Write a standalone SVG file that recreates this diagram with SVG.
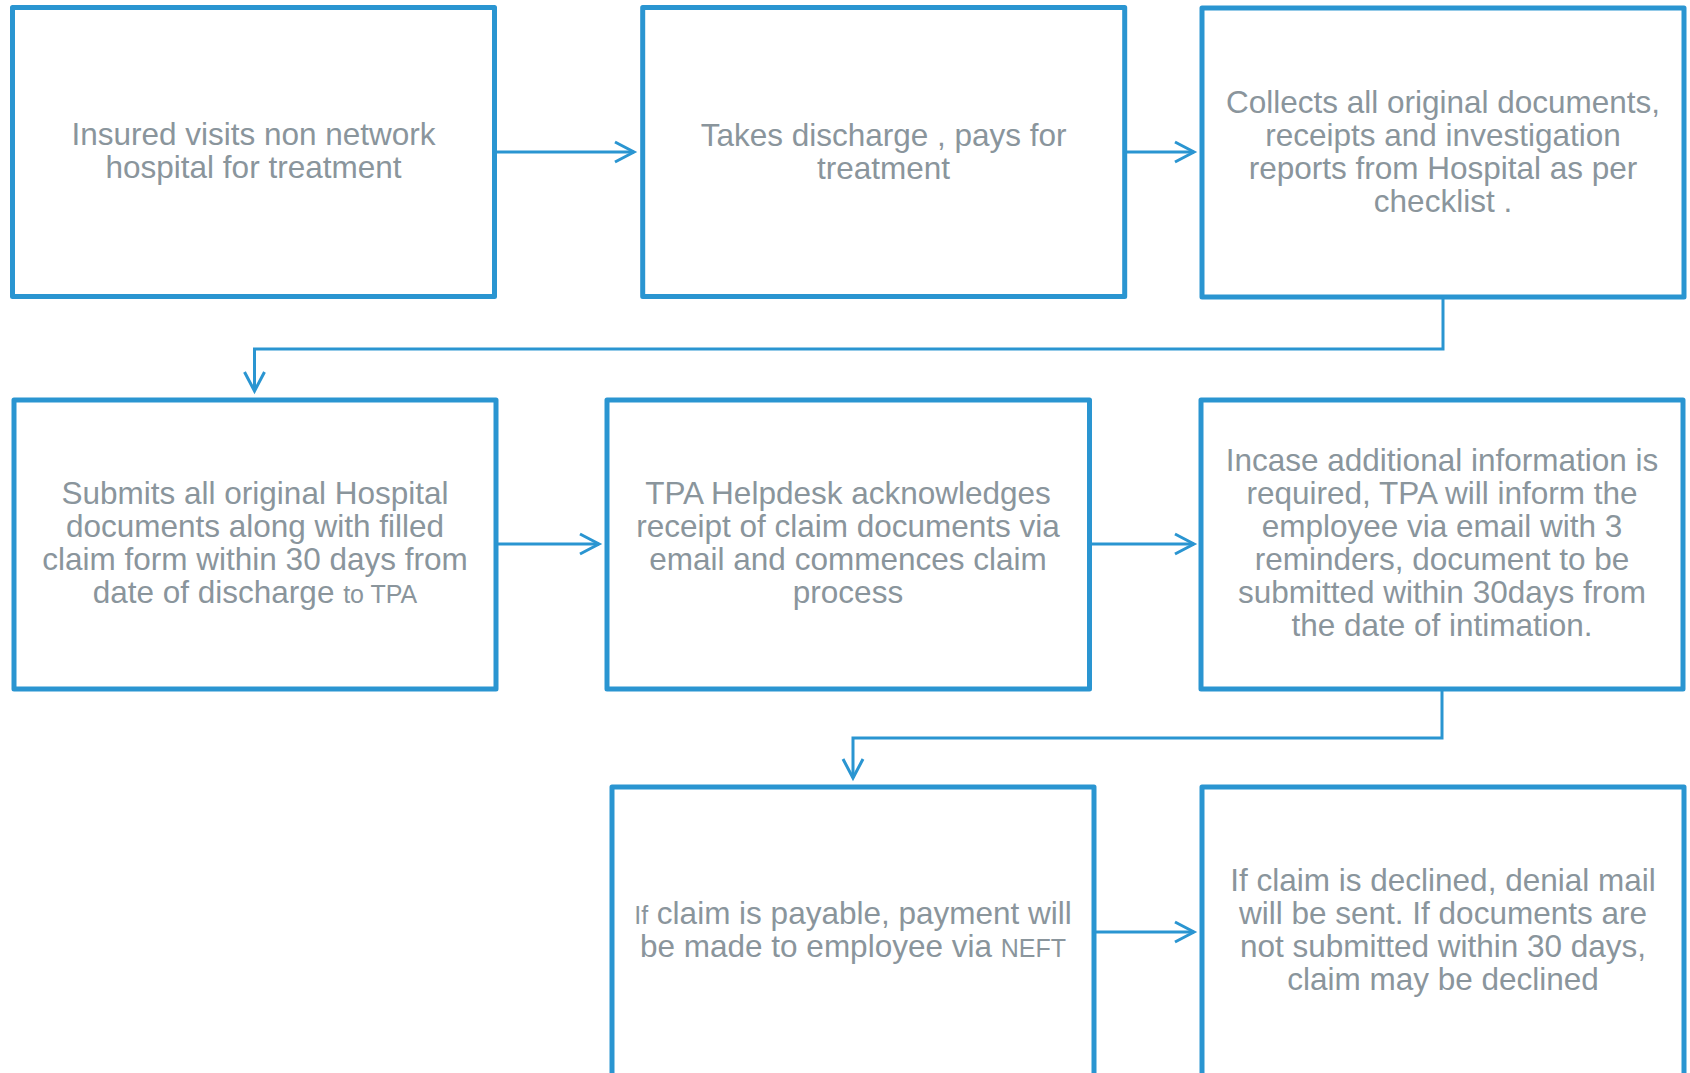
<svg xmlns="http://www.w3.org/2000/svg" width="1690" height="1073" viewBox="0 0 1690 1073">
<style>
.box{fill:#ffffff;stroke:#2a95d1;stroke-width:5;stroke-linejoin:round}
.lbl{font-family:"Liberation Sans",Arial,sans-serif;font-size:31.5px;fill:#8a959c;text-anchor:middle}
.sm{font-size:25px}
.con{fill:none;stroke:#2a95d1;stroke-width:3}
</style>
<defs>
<marker id="arr" markerUnits="userSpaceOnUse" viewBox="-24 -13 28 26" markerWidth="28" markerHeight="26" refX="0" refY="0" orient="auto">
<path d="M-19,-10 L0,0 L-19,10" fill="none" stroke="#2a95d1" stroke-width="3"/>
</marker>
</defs>
<rect width="1690" height="1073" fill="#ffffff"/>
<g id="connectors">
<path class="con" d="M494.5,152 H634" marker-end="url(#arr)"/>
<path class="con" d="M1124.5,152 H1194" marker-end="url(#arr)"/>
<path class="con" d="M1443,297 V349 H254.5 V391" marker-end="url(#arr)"/>
<path class="con" d="M495.7,544 H599" marker-end="url(#arr)"/>
<path class="con" d="M1089.5,544 H1194" marker-end="url(#arr)"/>
<path class="con" d="M1442,689 V738 H853 V778" marker-end="url(#arr)"/>
<path class="con" d="M1094,932 H1194" marker-end="url(#arr)"/>
</g>
<g id="node1">
<rect class="box" x="12.5" y="7.5" width="482" height="289"/>
<text class="lbl" x="253.5" y="145">Insured visits non network</text>
<text class="lbl" x="253.5" y="178">hospital for treatment</text>
</g>
<g id="node2">
<rect class="box" x="642.7" y="7.5" width="482" height="289"/>
<text class="lbl" x="883.6" y="146">Takes discharge , pays for</text>
<text class="lbl" x="883.6" y="179">treatment</text>
</g>
<g id="node3">
<rect class="box" x="1202" y="8" width="482" height="289"/>
<text class="lbl" x="1443" y="112.5">Collects all original documents,</text>
<text class="lbl" x="1443" y="145.5">receipts and investigation</text>
<text class="lbl" x="1443" y="178.5">reports from Hospital as per</text>
<text class="lbl" x="1443" y="211.5">checklist .</text>
</g>
<g id="node4">
<rect class="box" x="14" y="400" width="482" height="289"/>
<text class="lbl" x="255" y="504">Submits all original Hospital</text>
<text class="lbl" x="255" y="537">documents along with filled</text>
<text class="lbl" x="255" y="570">claim form  within 30 days from</text>
<text class="lbl" x="255" y="603">date of discharge <tspan class="sm">to TPA</tspan></text>
</g>
<g id="node5">
<rect class="box" x="607" y="400" width="482.5" height="289"/>
<text class="lbl" x="848" y="504">TPA Helpdesk acknowledges</text>
<text class="lbl" x="848" y="537">receipt of claim documents via</text>
<text class="lbl" x="848" y="570">email and commences claim</text>
<text class="lbl" x="848" y="603">process</text>
</g>
<g id="node6">
<rect class="box" x="1201" y="400" width="482" height="289"/>
<text class="lbl" x="1442" y="471">Incase additional information is</text>
<text class="lbl" x="1442" y="504">required, TPA will inform the</text>
<text class="lbl" x="1442" y="537">employee via email with 3</text>
<text class="lbl" x="1442" y="570">reminders, document to be</text>
<text class="lbl" x="1442" y="603">submitted within 30days from</text>
<text class="lbl" x="1442" y="636">the date of intimation.</text>
</g>
<g id="node7">
<rect class="box" x="612" y="787" width="482" height="300"/>
<text class="lbl" x="853" y="924"><tspan class="sm">If</tspan> claim is payable, payment will</text>
<text class="lbl" x="853" y="957">be made to employee via <tspan class="sm">NEFT</tspan></text>
</g>
<g id="node8">
<rect class="box" x="1202" y="787" width="482" height="300"/>
<text class="lbl" x="1443" y="891">If claim is declined, denial mail</text>
<text class="lbl" x="1443" y="924">will be sent. If documents are</text>
<text class="lbl" x="1443" y="957">not submitted within 30 days,</text>
<text class="lbl" x="1443" y="990">claim may be declined</text>
</g>
</svg>
